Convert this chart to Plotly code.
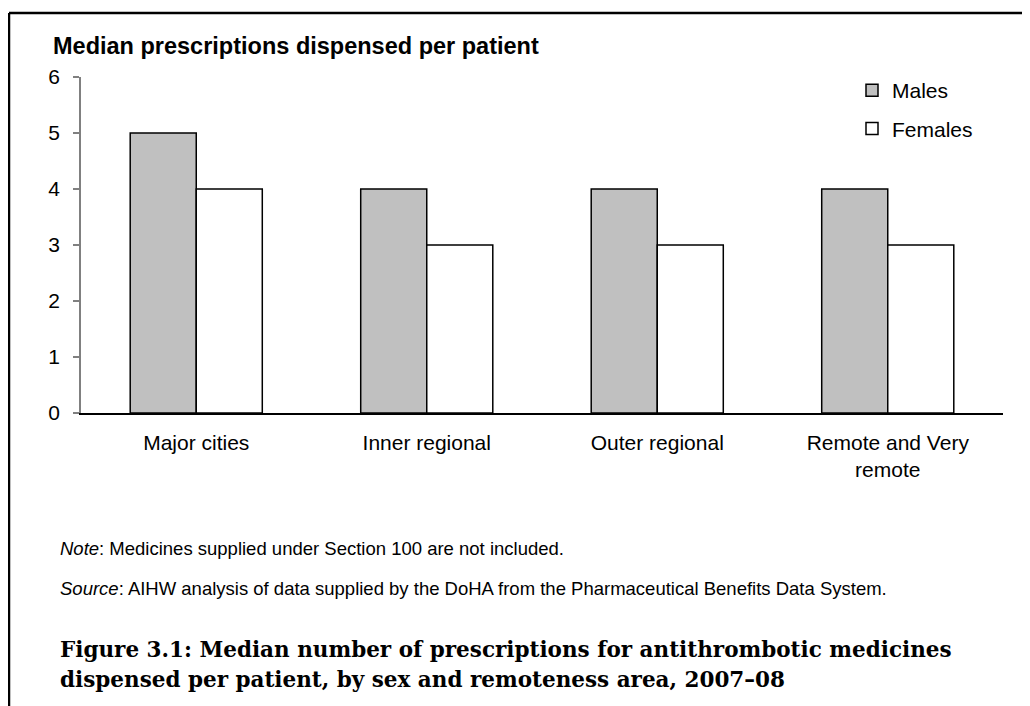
import plotly.graph_objects as go

categories = ["Major cities", "Inner regional", "Outer regional", "Remote and Very<br>remote"]
males = [5, 4, 4, 4]
females = [4, 3, 3, 3]
y_ticks = [0, 1, 2, 3, 4, 5, 6]

OFF = 8  # page body margin of the html page
W, H = 1030 - OFF, 706 - OFF
# plot area in page pixels
L, R, T, B = 81, 1003, 77, 413


def px(x):
    return (x - L) / (R - L)


def py(y):
    return (B - y) / (B - T)


fig = go.Figure()
fig.add_trace(go.Bar(
    name="Males", x=categories, y=males,
    marker=dict(color="#C0C0C0", line=dict(color="#000000", width=1.5)),
    legendgroup="m",
))
fig.add_trace(go.Bar(
    name="Females", x=categories, y=females,
    marker=dict(color="#FFFFFF", line=dict(color="#000000", width=1.5)),
    legendgroup="f",
))

sans = "Arial, Liberation Sans"
serif = "DejaVu Serif, Liberation Serif"

annotations = [
    dict(text="<b>Median prescriptions dispensed per patient</b>", x=px(51), y=py(46),
         xref="paper", yref="paper", xanchor="left", yanchor="middle", showarrow=False,
         font=dict(family=sans, size=23.5, color="#000000")),
    dict(text="<i>Note</i>: Medicines supplied under Section 100 are not included.", x=px(58), y=py(548),
         xref="paper", yref="paper", xanchor="left", yanchor="middle", showarrow=False,
         font=dict(family=sans, size=18.5, color="#000000")),
    dict(text="<i>Source</i>: AIHW analysis of data supplied by the DoHA from the Pharmaceutical Benefits Data System.",
         x=px(58), y=py(588),
         xref="paper", yref="paper", xanchor="left", yanchor="middle", showarrow=False,
         font=dict(family=sans, size=18.5, color="#000000")),
    dict(text="<b>Figure 3.1: Median number of prescriptions for antithrombotic medicines</b>",
         x=px(58), y=py(649),
         xref="paper", yref="paper", xanchor="left", yanchor="middle", showarrow=False,
         font=dict(family=serif, size=21.5, color="#000000")),
    dict(text="<b>dispensed per patient, by sex and remoteness area, 2007–08</b>",
         x=px(58), y=py(679),
         xref="paper", yref="paper", xanchor="left", yanchor="middle", showarrow=False,
         font=dict(family=serif, size=21.5, color="#000000")),
]

shapes = [
    dict(type="line", xref="paper", yref="paper", x0=px(9), x1=px(1040), y0=py(13), y1=py(13),
         line=dict(color="#000000", width=2.5)),
    dict(type="line", xref="paper", yref="paper", x0=px(9), x1=px(9), y0=py(13), y1=py(720),
         line=dict(color="#000000", width=2.5)),
]

fig.update_layout(
    width=W, height=H,
    margin=dict(l=L - OFF, r=(W + OFF) - R, t=T - OFF, b=(H + OFF) - B, pad=0),
    paper_bgcolor="#FFFFFF", plot_bgcolor="#FFFFFF",
    barmode="group", bargap=0.427, bargroupgap=0,
    font=dict(family=sans, color="#000000"),
    showlegend=True,
    legend=dict(x=px(852), y=py(70), xanchor="left", yanchor="top",
                font=dict(size=21, family=sans),
                bgcolor="rgba(0,0,0,0)", traceorder="grouped", tracegroupgap=8,
                itemclick=False),
    annotations=annotations,
    shapes=shapes,
)
fig.update_yaxes(range=[0, 6], tickvals=y_ticks, showgrid=False, zeroline=False,
                 showline=True, linecolor="#808080", linewidth=1.5,
                 ticks="outside", ticklen=6, tickcolor="#808080", tickwidth=1.5,
                 ticklabelstandoff=9,
                 tickfont=dict(size=21, family=sans, color="#000000"))
fig.update_xaxes(showgrid=False, zeroline=False, showline=True, linecolor="#000000", linewidth=1.5,
                 ticks="", ticklabelstandoff=10,
                 tickfont=dict(size=21, family=sans, color="#000000"))

fig.write_html("out.html")
